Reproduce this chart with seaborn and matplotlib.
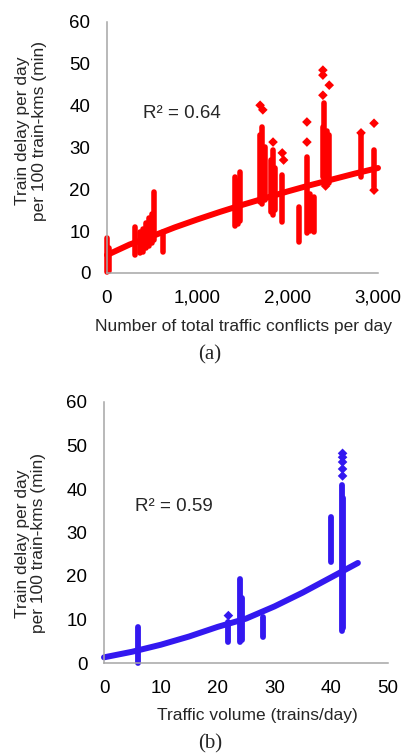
import numpy as np
import pandas as pd
import matplotlib
matplotlib.use("Agg")
import matplotlib.pyplot as plt
import seaborn as sns

# ---------------- data ----------------
# (a) clusters of points: x position, lowest and highest delay value
conf_x  = [0, 20, 306, 360, 395, 430, 465, 500, 515, 625, 1415, 1445, 1475,
           1695, 1720, 1745, 1810, 1840, 1865, 1940, 2120, 2210, 2245, 2290,
           2390, 2405, 2440, 2460, 2815, 2960]
conf_lo = [0.2, 0.5, 4.4, 4.8, 5.0, 6.0, 6.5, 7.2, 7.9, 5.0, 11.3, 11.8, 12.5,
           17.0, 16.5, 17.5, 14.5, 13.8, 15.0, 12.3, 7.3, 9.6, 10.0, 9.8,
           23.0, 28.0, 22.0, 21.5, 23.0, 20.5]
conf_hi = [8.3, 6.0, 10.9, 9.8, 10.5, 12.0, 13.2, 14.0, 19.4, 9.8, 23.0, 22.0, 24.1,
           33.0, 34.8, 30.0, 27.0, 29.5, 25.0, 23.4, 15.8, 27.7, 19.0, 18.2,
           35.0, 40.6, 34.0, 33.0, 33.5, 29.4]
# (a) isolated points
conf_out_x = [1695, 1725, 1838, 1940, 1955, 2213, 2213, 2390, 2390, 2390, 2460, 2420, 2812, 2956, 2956]
conf_out_y = [40.1, 39.0, 31.3, 28.7, 27.0, 36.1, 31.3, 48.5, 47.3, 42.5, 44.9, 20.8, 33.5, 35.8, 19.8]
# (a) trend line
trend_a_x = [0, 250, 500, 750, 1000, 1250, 1500, 1750, 2000, 2250, 2500, 2750, 3000]
trend_a_y = [4.3, 6.8, 8.8, 10.9, 12.8, 14.6, 16.3, 17.9, 19.5, 21.0, 22.4, 23.8, 25.1]

# (b) clusters
vol_x  = [6.0, 21.9, 24.0, 24.3, 28.0, 39.9, 41.9, 42.1]
vol_lo = [0.0, 4.8, 4.8, 5.2, 5.9, 23.2, 7.4, 8.0]
vol_hi = [8.2, 9.5, 19.3, 15.0, 10.5, 33.5, 41.0, 38.0]
# (b) isolated points
vol_out_x = [21.9, 42.0, 42.0, 42.0, 42.0, 42.0]
vol_out_y = [10.9, 48.2, 47.3, 46.2, 44.6, 43.0]
# (b) trend line
trend_b_x = [0, 5, 10, 15, 20, 25, 30, 35, 40, 44.7]
trend_b_y = [1.3, 2.6, 4.2, 6.1, 8.3, 10.2, 13.0, 16.2, 19.7, 23.0]

r2_a = "R² = 0.64"
r2_b = "R² = 0.59"
ylab = "Train delay per day\nper 100 train-kms (min)"
xlab_a = "Number of total traffic conflicts per day"
xlab_b = "Traffic volume (trains/day)"
a_xticks = [0, 1000, 2000, 3000]
a_xticklabels = ["0", "1,000", "2,000", "3,000"]
b_xticks = [0, 10, 20, 30, 40, 50]
yticks = [0, 10, 20, 30, 40, 50, 60]

# ---------------- style ----------------
sns.set_theme(style="white")
plt.rcParams["font.family"] = ["Liberation Sans", "DejaVu Sans"]

RED = "#FF0000"
BLUE = "#3318F0"
SPINE = "#A6A6A6"
TICK_FS = 13.5
LAB_FS = 12.5

fig = plt.figure(figsize=(4.03, 7.54), dpi=100)
ax1 = fig.add_axes([107/403, 1-273/754, 271/403, 251/754])
ax2 = fig.add_axes([104/403, 1-663/754, 284/403, 261/754])


def panel(ax, cx, clo, chi, ox, oy, tx, ty, color, xlim, xticks, xticklabels, lw):
    ax.vlines(cx, clo, chi, colors=color, linewidth=lw, capstyle="round")
    sns.lineplot(x=tx, y=ty, ax=ax, color=color, linewidth=4.3,
                 solid_capstyle="round", sort=False)
    sns.scatterplot(x=ox, y=oy, ax=ax, color=color, marker="D", s=24,
                    linewidth=0, edgecolor="none")
    ax.set_xlim(*xlim)
    ax.set_ylim(0, 60)
    ax.set_xticks(xticks)
    ax.set_xticklabels(xticklabels)
    ax.set_yticks(yticks)
    ax.tick_params(axis="both", length=0, labelsize=TICK_FS, colors="#000000", pad=12)
    for s in ["top", "right"]:
        ax.spines[s].set_visible(False)
    for s in ["left", "bottom"]:
        ax.spines[s].set_color(SPINE)
        ax.spines[s].set_linewidth(1.1)
    for c in ax.collections + ax.lines:
        c.set_clip_on(False)


panel(ax1, conf_x, conf_lo, conf_hi, conf_out_x, conf_out_y,
      trend_a_x, trend_a_y, RED, (0, 3000), a_xticks, a_xticklabels, 4.0)
panel(ax2, vol_x, vol_lo, vol_hi, vol_out_x, vol_out_y,
      trend_b_x, trend_b_y, BLUE, (0, 50), b_xticks, [str(v) for v in b_xticks], 4.2)

ax1.text(400, 38.2, r2_a, fontsize=TICK_FS, va="center", ha="left")
ax2.text(5.5, 35.9, r2_b, fontsize=TICK_FS, va="center", ha="left")

ax1.set_ylabel(ylab, fontsize=LAB_FS, va="center", linespacing=1.15)
ax1.yaxis.set_label_coords(-0.279, 0.566)
ax2.set_ylabel(ylab, fontsize=LAB_FS, va="center", linespacing=1.15)
ax2.yaxis.set_label_coords(-0.259, 0.458)

ax1.set_xlabel(xlab_a, fontsize=LAB_FS, va="center")
ax1.xaxis.set_label_coords(0.505, -0.215)
ax2.set_xlabel(xlab_b, fontsize=LAB_FS, va="center")
ax2.xaxis.set_label_coords(0.539, -0.203)

fig.text(210/403, 1-355/754, "(a)", fontsize=15, ha="center", va="center",
         family=["Liberation Serif", "DejaVu Serif"])
fig.text(210/403, 1-744/754, "(b)", fontsize=15, ha="center", va="center",
         family=["Liberation Serif", "DejaVu Serif"])

fig.savefig("out.png", dpi=100, facecolor="white")
